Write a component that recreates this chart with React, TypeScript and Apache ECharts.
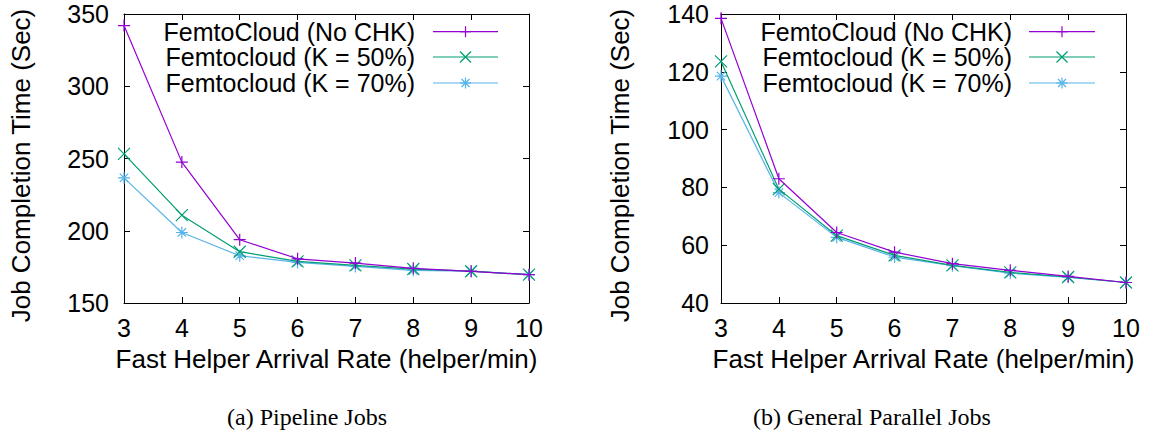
import React, { useEffect, useRef } from "react";
import * as echarts from "echarts";

const xValues = [3, 4, 5, 6, 7, 8, 9, 10];
const seriesNames = ["FemtoCloud (No CHK)", "Femtocloud (K = 50%)", "Femtocloud (K = 70%)"];
const colors = ["#9400D3", "#009E73", "#56B4E9"];

const pipelineNoChk = [342, 247.5, 193.8, 180.6, 177.6, 174, 171.9, 169.6];
const pipelineK50 = [253.2, 210.8, 185.5, 178.8, 176, 173.5, 172, 169.6];
const pipelineK70 = [236.6, 198.8, 182.7, 178.1, 175.3, 172.6, 172, 169.6];

const generalNoChk = [138.5, 83.0, 64.4, 57.6, 53.6, 51.3, 49.2, 47.1];
const generalK50 = [123.6, 79.4, 63.3, 56.5, 53.0, 50.6, 49.0, 47.1];
const generalK70 = [118.5, 78.2, 62.7, 55.9, 52.9, 50.3, 48.9, 47.1];

const yTicksPipeline = { min: 150, max: 350, interval: 50 };
const yTicksGeneral = { min: 40, max: 140, interval: 20 };

const xTitle = "Fast Helper Arrival Rate (helper/min)";
const yTitle = "Job Completion Time (Sec)";
const captions = ["(a) Pipeline Jobs", "(b) General Parallel Jobs"];

const symbols = [
  "path://M5,0L5,10M0,5L10,5",
  "path://M0,0L10,10M0,10L10,0",
  "path://M5,0L5,10M0,5L10,5M1.5,1.5L8.5,8.5M1.5,8.5L8.5,1.5",
];

const FONT = "Liberation Sans, Arial, Helvetica, sans-serif";

export default function App() {
  const ref = useRef<HTMLDivElement>(null);
  useEffect(() => {
    if (!ref.current) return;
    const chart = echarts.init(ref.current, null, { renderer: "svg" });

    const grids = [
      { left: 124, top: 14, width: 405, height: 289 },
      { left: 721, top: 14, width: 405, height: 289 },
    ];

    const axisLine = { show: true, lineStyle: { color: "#000", width: 1 } };
    const tick = { show: true, inside: true, length: 6, lineStyle: { color: "#000" } };

    const xAxes: any[] = [];
    const yAxes: any[] = [];
    [0, 1].forEach((g) => {
      xAxes.push({
        type: "value", gridIndex: g, min: 3, max: 10, interval: 1, position: "bottom",
        axisLine, axisTick: tick, splitLine: { show: false },
        axisLabel: { color: "#000", fontFamily: FONT, fontSize: 25, margin: 12 },
        name: xTitle, nameLocation: "middle", nameGap: 43,
        nameTextStyle: { color: "#000", fontFamily: FONT, fontSize: 26 },
      });
      xAxes.push({
        type: "value", gridIndex: g, min: 3, max: 10, interval: 1, position: "top",
        axisLine, axisTick: tick, splitLine: { show: false }, axisLabel: { show: false },
      });
      const yt = g === 0 ? yTicksPipeline : yTicksGeneral;
      yAxes.push({
        type: "value", gridIndex: g, min: yt.min, max: yt.max, interval: yt.interval, position: "left",
        axisLine, axisTick: tick, splitLine: { show: false },
        axisLabel: { color: "#000", fontFamily: FONT, fontSize: 25, margin: g === 0 ? 15 : 12 },
        name: yTitle, nameLocation: "middle", nameGap: g === 0 ? 90 : 88,
        nameTextStyle: { color: "#000", fontFamily: FONT, fontSize: 26, padding: [0, 14, 0, 0] },
      });
      yAxes.push({
        type: "value", gridIndex: g, min: yt.min, max: yt.max, interval: yt.interval, position: "right",
        axisLine, axisTick: tick, splitLine: { show: false }, axisLabel: { show: false },
      });
    });

    const dataSets = [
      [pipelineNoChk, pipelineK50, pipelineK70],
      [generalNoChk, generalK50, generalK70],
    ];
    const series: any[] = [];
    dataSets.forEach((sets, g) => {
      sets.forEach((vals, i) => {
        series.push({
          type: "line",
          name: seriesNames[i],
          xAxisIndex: g * 2,
          yAxisIndex: g * 2,
          data: vals.map((v, k) => [xValues[k], v]),
          symbol: symbols[i],
          symbolSize: 12,
          color: colors[i],
          lineStyle: { color: colors[i], width: 1.2 },
          itemStyle: { color: colors[i], borderColor: colors[i], borderWidth: 1.2 },
          z: 10 - i,
        });
      });
    });

    // legends drawn as graphic
    const graphic: any[] = [];
    const legendRows = [31.7, 57, 83];
    const legendCfg = [
      { textRight: 415, lineStart: 433, lineEnd: 498 },
      { textRight: 1012, lineStart: 1029, lineEnd: 1095 },
    ];
    legendCfg.forEach((lc) => {
      legendRows.forEach((y, i) => {
        graphic.push({
          type: "text", x: lc.textRight, y,
          style: { text: seriesNames[i], fill: "#000", font: `25px ${FONT}`, align: "right", verticalAlign: "middle" },
        });
        graphic.push({
          type: "line", shape: { x1: lc.lineStart, y1: y, x2: lc.lineEnd, y2: y },
          style: { stroke: colors[i], lineWidth: 1.2 },
        });
        const cx = (lc.lineStart + lc.lineEnd) / 2;
        const r = 5.5;
        const segs: number[][] = [];
        if (i === 0 || i === 2) {
          segs.push([cx - r, y, cx + r, y], [cx, y - r, cx, y + r]);
        }
        if (i === 1 || i === 2) {
          const d = i === 2 ? 4 : r;
          segs.push([cx - d, y - d, cx + d, y + d], [cx - d, y + d, cx + d, y - d]);
        }
        segs.forEach((s) =>
          graphic.push({
            type: "line", shape: { x1: s[0], y1: s[1], x2: s[2], y2: s[3] },
            style: { stroke: colors[i], lineWidth: 1.2 },
          })
        );
      });
    });
    const capX = [307, 872];
    captions.forEach((c, i) => {
      graphic.push({
        type: "text", x: capX[i], y: 417,
        style: { text: c, fill: "#000", font: `24px "Liberation Serif", "DejaVu Serif", serif`, align: "center", verticalAlign: "middle" },
      });
    });

    chart.setOption({
      animation: false,
      backgroundColor: "#fff",
      grid: grids,
      xAxis: xAxes,
      yAxis: yAxes,
      series,
      graphic,
    });
    return () => chart.dispose();
  }, []);
  return (
    <div
      ref={ref}
      style={{ position: "fixed", left: 0, top: 0, width: 1157, height: 436, background: "#fff" }}
    />
  );
}
